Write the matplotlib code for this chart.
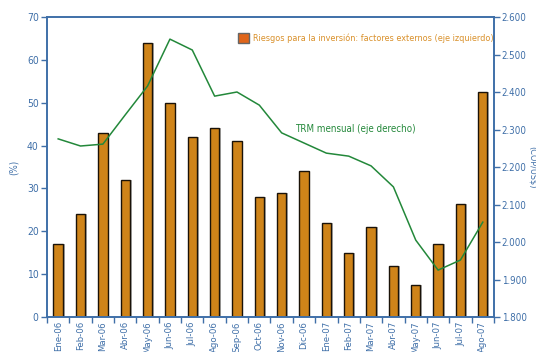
import matplotlib.pyplot as plt
import numpy as np

plt.rcParams['font.family'] = ['DejaVu Sans']
plt.rcParams['font.stretch'] = 'condensed'

meses = ['Ene-06', 'Feb-06', 'Mar-06', 'Abr-06', 'May-06', 'Jun-06', 'Jul-06',
         'Ago-06', 'Sep-06', 'Oct-06', 'Nov-06', 'Dic-06', 'Ene-07', 'Feb-07',
         'Mar-07', 'Abr-07', 'May-07', 'Jun-07', 'Jul-07', 'Ago-07']
riesgos = [17, 24, 43, 32, 64, 50, 42, 44, 41, 28, 29, 34, 22, 15, 21, 12, 7.5, 17, 26.3, 52.5]
trm = [2275, 2256, 2261, 2339, 2416, 2541, 2512, 2389, 2400, 2365, 2291, 2264,
       2237, 2229, 2203, 2147, 2005, 1925, 1952, 2053]

azul = '#3f6fa8'
naranja = '#cf8419'
verde = '#23883a'

fig = plt.figure(figsize=(5.36, 3.52), dpi=100)
ax = fig.add_axes([0.0877, 0.0994, 0.8339, 0.8523])
x = np.arange(len(meses))

# sombra gris detras de las barras
ax.bar(x + 0.08, riesgos, width=0.42, color='#b0b0b0', zorder=1)
ax.bar(x, riesgos, width=0.42, color=naranja, edgecolor='#1a1208', linewidth=1.0, zorder=2)
ax.set_xlim(-0.5, len(meses) - 0.5)
ax.set_ylim(0, 70)
ax.set_yticks(range(0, 71, 10))
ax.set_xticks(x)
ax.set_xticklabels(meses, rotation=90)
ax.set_xticks(np.arange(-0.5, len(meses), 1), minor=True)
ax.tick_params(axis='x', which='major', length=0, labelsize=6.8, labelcolor=azul, pad=3)
ax.tick_params(axis='x', which='minor', length=4, color=azul, width=1)
ax.tick_params(axis='y', length=4, color=azul, labelsize=7.5, labelcolor=azul, width=1, pad=2)
ax.set_ylabel('(%)', color=azul, fontsize=7, labelpad=6)

ax2 = ax.twinx()
ax2.plot(x, trm, color=verde, linewidth=1.1)
ax2.set_ylim(1800, 2600)
ax2.set_yticks(range(1800, 2601, 100))
ax2.set_yticklabels([f'{v // 1000}.{v % 1000:03d}' for v in range(1800, 2601, 100)])
ax2.tick_params(axis='y', length=4, color=azul, labelsize=7, labelcolor=azul, width=1, pad=1.5)
ax2.set_ylabel('(COP/US$)', color=azul, fontsize=6.5, rotation=270, va='center')
ax2.yaxis.set_label_coords(1.085, 0.5)

for a in (ax, ax2):
    for s in a.spines.values():
        s.set_color(azul)
        s.set_linewidth(1.2)

fig.patches.append(plt.Rectangle((0.444, 0.878), 0.0205, 0.028, transform=fig.transFigure,
                                 facecolor='#e0651a', edgecolor='#666666', linewidth=1))
fig.text(0.472, 0.892, 'Riesgos para la inversión: factores externos (eje izquierdo)',
         color='#d9902a', fontsize=6.5, va='center')
ax2.text(13.3, 2301, 'TRM mensual (eje derecho)', color=verde, fontsize=7,
         ha='center', va='center')

fig.savefig('out.png', dpi=100)
